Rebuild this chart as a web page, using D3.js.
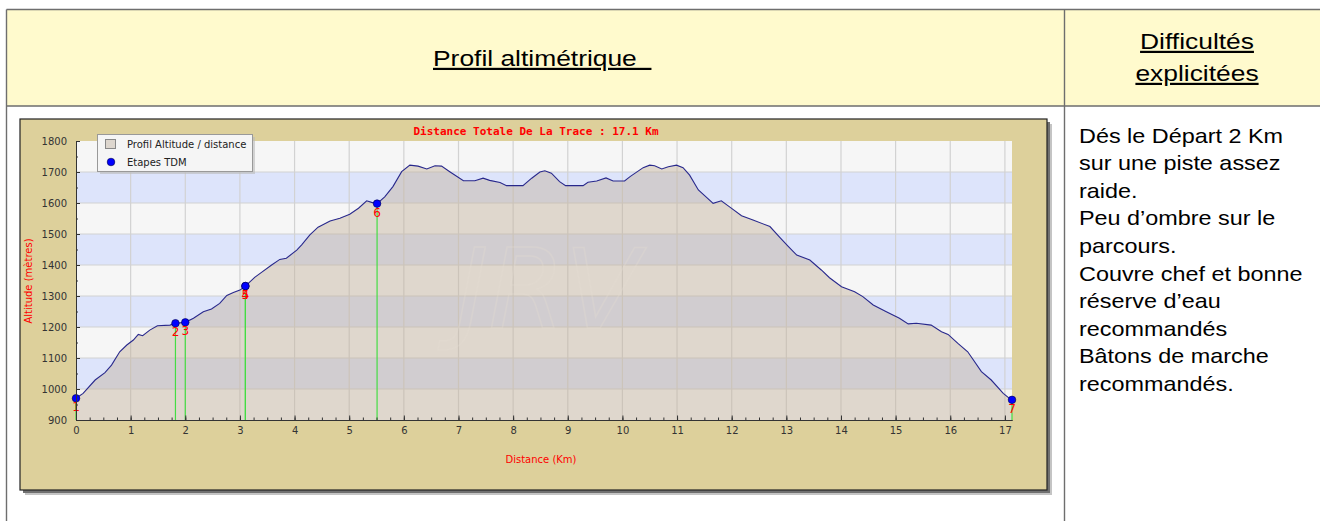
<!DOCTYPE html>
<html>
<head>
<meta charset="utf-8">
<script src="https://cdn.jsdelivr.net/npm/d3@7"></script>
<style>
body { margin: 0; background: #fff; }
svg { display: block; }
</style>
</head>
<body>
<div class="content"></div>
<script>
// profil : distance (km) / altitude (m)
var profKm = [0, 0.13, 0.35, 0.53, 0.65, 0.80, 0.93, 1.05, 1.14, 1.22, 1.35, 1.49, 1.72, 1.82, 2.0, 2.15, 2.33, 2.48, 2.63, 2.76, 2.88, 3.0, 3.10, 3.27, 3.37, 3.58, 3.73, 3.85, 4.04, 4.13, 4.28, 4.43, 4.65, 4.83, 5.01, 5.17, 5.32, 5.41, 5.51, 5.65, 5.80, 5.96, 6.11, 6.26, 6.42, 6.57, 6.69, 6.84, 7.09, 7.30, 7.45, 7.57, 7.76, 7.88, 8.18, 8.34, 8.49, 8.58, 8.70, 8.85, 8.96, 9.28, 9.37, 9.53, 9.70, 9.83, 10.04, 10.14, 10.38, 10.50, 10.59, 10.72, 10.84, 10.99, 11.11, 11.23, 11.39, 11.54, 11.66, 11.81, 11.98, 12.18, 12.39, 12.70, 12.88, 13.03, 13.19, 13.43, 13.64, 13.79, 14.01, 14.25, 14.40, 14.59, 14.83, 15.07, 15.23, 15.38, 15.65, 15.84, 15.96, 16.14, 16.32, 16.57, 16.75, 16.97, 17.06, 17.13];
var profAlt = [970, 986, 1029, 1053, 1077, 1120, 1142, 1158, 1176, 1172, 1190, 1204, 1206, 1212, 1215, 1228, 1249, 1258, 1276, 1302, 1311, 1319, 1332, 1360, 1373, 1400, 1418, 1422, 1448, 1465, 1497, 1522, 1542, 1551, 1564, 1583, 1607, 1602, 1598, 1620, 1653, 1701, 1722, 1719, 1710, 1720, 1719, 1701, 1672, 1672, 1680, 1673, 1666, 1656, 1656, 1680, 1700, 1704, 1696, 1669, 1656, 1656, 1667, 1671, 1681, 1671, 1671, 1685, 1714, 1722, 1720, 1710, 1717, 1722, 1714, 1690, 1642, 1618, 1599, 1607, 1585, 1559, 1545, 1524, 1489, 1461, 1432, 1416, 1384, 1359, 1330, 1314, 1298, 1271, 1249, 1228, 1210, 1212, 1206, 1185, 1176, 1147, 1120, 1056, 1029, 986, 973, 965];

// etapes TDM
var wpKm = [0, 1.82, 2.0, 3.10, 3.10, 5.51, 17.13];
var wpAlt = [970, 1212, 1215, 1332, 1332, 1598, 965];
var wpLabels = ["1", "2", "3", "4", "5", "6", "7"];

var xTicks = [0, 1, 2, 3, 4, 5, 6, 7, 8, 9, 10, 11, 12, 13, 14, 15, 16, 17];
var yTicks = [900, 1000, 1100, 1200, 1300, 1400, 1500, 1600, 1700, 1800];

var chartTitle = "Distance Totale De La Trace : 17.1 Km";
var xTitle = "Distance (Km)";
var yTitle = "Altitude (mètres)";
var legendLabels = ["Profil Altitude / distance", "Etapes TDM"];

var headLeft = "Profil altimétrique\u00a0\u00a0";
var headRight = ["Difficultés", "explicitées"];
var notes = ["Dés le Départ 2 Km", "sur une piste assez", "raide.", "Peu d’ombre sur le", "parcours.", "Couvre chef et bonne", "réserve d’eau", "recommandés", "Bâtons de marche", "recommandés."];

var W = 1320, H = 521;
var svg = d3.select(".content").append("svg").attr("width", W).attr("height", H);

// ---- tableau ----
svg.append("rect").attr("x", 7).attr("y", 10).attr("width", W - 7).attr("height", 96).attr("fill", "#fffacd");
var bc = "#6e6e6e";
svg.append("path").attr("d", "M6.5,9.5H1320M6.5,106H1320M6.5,9.5V521M1064.5,9.5V521")
  .attr("stroke", bc).attr("stroke-width", 1.4).attr("fill", "none");

var hfont = "'Liberation Sans', Arial, sans-serif";
svg.append("text").attr("transform", "translate(433,66) scale(1.2,1)")
  .attr("font-family", hfont).attr("font-size", 22).attr("fill", "#000")
  .attr("text-decoration", "underline").attr("xml:space", "preserve").text(headLeft);
svg.selectAll(".hr").data(headRight).enter().append("text")
  .attr("transform", function(d, i){ return "translate(1197," + (49 + i * 32) + ") scale(1.2,1)"; })
  .attr("text-anchor", "middle").attr("font-family", hfont).attr("font-size", 22)
  .attr("text-decoration", "underline").attr("fill", "#000").text(function(d){ return d; });

svg.selectAll(".note").data(notes).enter().append("text")
  .attr("transform", function(d, i){ return "translate(1079," + (142.5 + i * 27.6) + ") scale(1.17,1)"; })
  .attr("font-family", hfont).attr("font-size", 20).attr("fill", "#000").text(function(d){ return d; });

// ---- cadre du graphique ----
var fx = 20, fy = 119, fw = 1027, fh = 371;
svg.append("rect").attr("x", fx + 5).attr("y", fy + 5).attr("width", fw).attr("height", fh).attr("fill", "#c4c4c4");
svg.append("rect").attr("x", fx + 3).attr("y", fy + 3).attr("width", fw).attr("height", fh).attr("fill", "#707070");
svg.append("rect").attr("x", fx).attr("y", fy).attr("width", fw).attr("height", fh)
  .attr("fill", "#ddd09b").attr("stroke", "#222").attr("stroke-width", 1.2);

var x = d3.scaleLinear().domain([0, 17.13]).range([76, 1012]);
var y = d3.scaleLinear().domain([900, 1800]).range([420, 141]);

// bandes
var bands = yTicks.slice(0, -1);
svg.selectAll(".band").data(bands).enter().append("rect")
  .attr("x", x(0)).attr("width", x(17.13) - x(0))
  .attr("y", function(d){ return y(d + 100); }).attr("height", function(d){ return y(d) - y(d + 100); })
  .attr("fill", function(d, i){ return i % 2 == 0 ? "#f6f6f6" : "#dde4fb"; });

// grille
var grid = svg.append("g").attr("stroke", "#d2d2d2").attr("stroke-width", 1.2);
grid.selectAll(".gx").data(xTicks.slice(1)).enter().append("line")
  .attr("x1", function(d){ return x(d); }).attr("x2", function(d){ return x(d); })
  .attr("y1", y(1800)).attr("y2", y(900));
grid.selectAll(".gy").data(yTicks.slice(1, -1)).enter().append("line")
  .attr("y1", function(d){ return y(d); }).attr("y2", function(d){ return y(d); })
  .attr("x1", x(0)).attr("x2", x(17.13));

// filigrane
svg.append("text").attr("x", 548).attr("y", 328).attr("text-anchor", "middle")
  .attr("font-family", "'DejaVu Sans', sans-serif").attr("font-size", 110).attr("font-style", "italic")
  .attr("fill", "none").attr("stroke", "#fff").attr("stroke-opacity", 0.3).attr("stroke-width", 1.5)
  .text("JRV");

var prof = profKm.map(function(d, i){ return [d, profAlt[i]]; });
var area = d3.area().x(function(d){ return x(d[0]); }).y0(y(900)).y1(function(d){ return y(d[1]); });
var line = d3.line().x(function(d){ return x(d[0]); }).y(function(d){ return y(d[1]); });

svg.append("path").datum(prof).attr("d", area).attr("fill", "rgb(197,178,158)").attr("fill-opacity", 0.46);
svg.append("path").datum(prof).attr("d", line).attr("fill", "none").attr("stroke", "#28288c").attr("stroke-width", 1.1);

// etapes
var wps = wpKm.map(function(d, i){ return {km: d, alt: wpAlt[i], lab: wpLabels[i]}; });
svg.selectAll(".vl").data(wps).enter().append("line")
  .attr("x1", function(d){ return x(d.km); }).attr("x2", function(d){ return x(d.km); })
  .attr("y1", function(d){ return y(d.alt); }).attr("y2", y(900))
  .attr("stroke", "#44dd44").attr("stroke-width", 1.2);
svg.selectAll(".pt").data(wps).enter().append("circle")
  .attr("cx", function(d){ return x(d.km); }).attr("cy", function(d){ return y(d.alt); })
  .attr("r", 3.8).attr("fill", "#0000ff").attr("stroke", "#000044").attr("stroke-width", 0.6);
svg.selectAll(".lab").data(wps).enter().append("text")
  .attr("x", function(d){ return x(d.km); }).attr("y", function(d){ return y(d.alt) + 13; })
  .attr("text-anchor", "middle").attr("font-family", "'DejaVu Sans', sans-serif").attr("font-size", 12)
  .attr("fill", "#ff0000").text(function(d){ return d.lab; });

// axes
var tfont = "'DejaVu Sans', sans-serif";
var yAxis = svg.append("g").attr("transform", "translate(" + x(0) + ",0)")
  .call(d3.axisLeft(y).tickValues(yTicks).tickFormat(d3.format("d")).tickSize(-4).tickSizeOuter(0).tickPadding(9));
var yMinor = svg.append("g").attr("transform", "translate(" + x(0) + ",0)")
  .call(d3.axisLeft(y).tickValues(d3.range(950, 1800, 100)).tickSize(-2).tickSizeOuter(0).tickFormat(""));
var xAxis = svg.append("g").attr("transform", "translate(0," + y(900) + ")")
  .call(d3.axisBottom(x).tickValues(xTicks).tickFormat(d3.format("d")).tickSize(-4.5).tickSizeOuter(0).tickPadding(7));
var xMinor = svg.append("g").attr("transform", "translate(0," + y(900) + ")")
  .call(d3.axisBottom(x).tickValues(d3.range(0.25, 17.1, 0.25)).tickSize(-2.5).tickSizeOuter(0).tickFormat(""));
[yAxis, yMinor, xAxis, xMinor].forEach(function(g){
  g.selectAll("path, line").attr("stroke", "#333");
  g.selectAll("text").attr("font-family", tfont).attr("font-size", 10).attr("fill", "#333");
});
yAxis.selectAll("text").attr("dy", "0.36em");

svg.append("text").attr("x", 541).attr("y", 463).attr("text-anchor", "middle")
  .attr("font-family", tfont).attr("font-size", 10).attr("fill", "#ff0000").text(xTitle);
svg.append("text").attr("transform", "translate(32,281) rotate(-90)").attr("text-anchor", "middle")
  .attr("font-family", tfont).attr("font-size", 10).attr("fill", "#ff0000").text(yTitle);
svg.append("text").attr("x", 536).attr("y", 135).attr("text-anchor", "middle")
  .attr("font-family", "'DejaVu Sans Mono', monospace").attr("font-weight", "bold").attr("font-size", 11)
  .attr("fill", "#ff0000").text(chartTitle);

// legende
var lg = svg.append("g");
lg.append("rect").attr("x", 100).attr("y", 137).attr("width", 155).attr("height", 37).attr("fill", "#bbb").attr("opacity", 0.6);
lg.append("rect").attr("x", 97.5).attr("y", 134.5).attr("width", 155).attr("height", 37)
  .attr("fill", "#f5f5f5").attr("stroke", "#999");
lg.append("rect").attr("x", 105.5).attr("y", 139.5).attr("width", 10).attr("height", 9)
  .attr("fill", "#ddd6ce").attr("stroke", "#888");
lg.append("circle").attr("cx", 111).attr("cy", 162).attr("r", 3.8).attr("fill", "#0000ff").attr("stroke", "#000044").attr("stroke-width", 0.6);
lg.selectAll(".lt").data(legendLabels).enter().append("text")
  .attr("x", 127).attr("y", function(d, i){ return 148 + i * 18; })
  .attr("font-family", tfont).attr("font-size", 10).attr("fill", "#222").text(function(d){ return d; });
</script>
</body>
</html>
